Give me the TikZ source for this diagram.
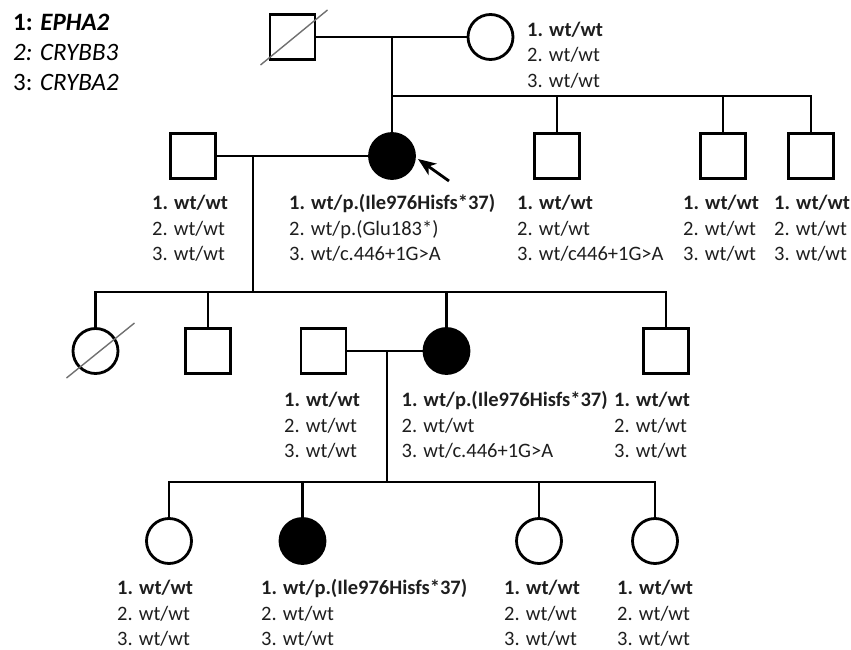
\documentclass[tikz,border=0pt]{standalone}
\usepackage{fontspec}
\setmainfont{Carlito}
\usetikzlibrary{arrows.meta, calc}

\definecolor{PedText}{HTML}{1E1E1E}
\definecolor{PedSlash}{HTML}{707070}

\begin{document}
\begin{tikzpicture}[
        x=1pt, y=-1pt,
        male/.style={draw, rectangle, minimum size=45pt, inner sep=0pt, line width=2.8pt},
        female/.style={draw, circle, minimum size=45pt, inner sep=0pt, line width=2.8pt},
        affected/.style={fill=black},
        rel/.style={line width=2.8pt},
        slash/.style={line width=1.4pt, PedSlash},
        geno/.style={anchor=base west, align=left, inner sep=0pt, font=\fontsize{20.5}{25.5}\selectfont, text=PedText},
        arr/.style={-{Stealth[length=18pt, width=14pt, inset=5pt]}, line width=2.8pt},
    ]
        \useasboundingbox (0,0) rectangle (851,650);

        % base anchor of a multi-line node sits on its last line
        \node[anchor=base west, align=left, inner sep=0pt, font=\fontsize{25}{30}\selectfont] (genes) at (13,91)
            {\textbf{1: \textit{EPHA2}}\\\textit{2: CRYBB3}\\3: \textit{CRYBA2}};

        % generation I
        \node[male]             (i1)   at (292.5,37) {};
        \node[female]           (i2)   at (490.5,37) {};
        % generation II
        \node[male]             (ii1)  at (193,156) {};
        \node[female, affected] (ii2)  at (392,156) {};
        \node[male]             (ii3)  at (557,156) {};
        \node[male]             (ii4)  at (723,156) {};
        \node[male]             (ii5)  at (811,156) {};
        % generation III
        \node[female]           (iii1) at (95.5,351) {};
        \node[male]             (iii2) at (208,351) {};
        \node[male]             (iii3) at (323.5,351) {};
        \node[female, affected] (iii4) at (446.5,351) {};
        \node[male]             (iii5) at (666,351) {};
        % generation IV
        \node[female]           (iv1)  at (169,541) {};
        \node[female, affected] (iv2)  at (302.5,541) {};
        \node[female]           (iv3)  at (539,541) {};
        \node[female]           (iv4)  at (655,541) {};

        \coordinate (c1) at (392,96);
        \coordinate (c2) at (253,292);
        \coordinate (c3) at (387,482);

        \draw[rel] (i1) -- (i2);
        \draw[rel] (i1 -| c1) -- (c1);
        \draw[rel] (ii2.north) -- (ii2.north |- c1) -- (ii5.north |- c1) -- (ii5.north);
        \foreach \k in {ii3, ii4} \draw[rel] (\k.north) -- (\k.north |- c1);

        \draw[rel] (ii1) -- (ii2);
        \draw[rel] (ii1 -| c2) -- (c2);
        \draw[rel] (iii1.north) -- (iii1.north |- c2) -- (iii5.north |- c2) -- (iii5.north);
        \foreach \k in {iii2, iii4} \draw[rel] (\k.north) -- (\k.north |- c2);

        \draw[rel] (iii3) -- (iii4);
        \draw[rel] (iii3 -| c3) -- (c3);
        \draw[rel] (iv1.north) -- (iv1.north |- c3) -- (iv4.north |- c3) -- (iv4.north);
        \foreach \k in {iv2, iv3} \draw[rel] (\k.north) -- (\k.north |- c3);

        % deceased
        \draw[slash] ($(i1)+(-32,28)$) -- ($(i1)+(35,-27)$);
        \draw[slash] ($(iii1)+(-29,27)$) -- ($(iii1)+(39,-28)$);

        % proband
        \coordinate (tail) at (449,181);
        \coordinate (tip)  at (418,159);
        \draw[arr] (tail) -- (tip);

        \node[geno] (g-i2)   at (527,87.5)  {\textbf{1. wt/wt}\\2. wt/wt\\3. wt/wt};
        \node[geno] (g-ii1)  at (152,260.5) {\textbf{1. wt/wt}\\2. wt/wt\\3. wt/wt};
        \node[geno] (g-ii2)  at (289,260.5) {\textbf{1. wt/p.(Ile976Hisfs*37)}\\2. wt/p.(Glu183*)\\3. wt/c.446+1G>A};
        \node[geno] (g-ii3)  at (517,260.5) {\textbf{1. wt/wt}\\2. wt/wt\\3. wt/c446+1G>A};
        \node[geno] (g-ii4)  at (683,260.5) {\textbf{1. wt/wt}\\2. wt/wt\\3. wt/wt};
        \node[geno] (g-ii5)  at (774,260.5) {\textbf{1. wt/wt}\\2. wt/wt\\3. wt/wt};
        \node[geno] (g-iii3) at (284,457.5) {\textbf{1. wt/wt}\\2. wt/wt\\3. wt/wt};
        \node[geno] (g-iii4) at (401.5,457.5) {\textbf{1. wt/p.(Ile976Hisfs*37)}\\2. wt/wt\\3. wt/c.446+1G>A};
        \node[geno] (g-iii5) at (614,457.5) {\textbf{1. wt/wt}\\2. wt/wt\\3. wt/wt};
        \node[geno] (g-iv1)  at (117,645.5) {\textbf{1. wt/wt}\\2. wt/wt\\3. wt/wt};
        \node[geno] (g-iv2)  at (261,645.5) {\textbf{1. wt/p.(Ile976Hisfs*37)}\\2. wt/wt\\3. wt/wt};
        \node[geno] (g-iv3)  at (504,645.5) {\textbf{1. wt/wt}\\2. wt/wt\\3. wt/wt};
        \node[geno] (g-iv4)  at (617,645.5) {\textbf{1. wt/wt}\\2. wt/wt\\3. wt/wt};
    \end{tikzpicture}
\end{document}
